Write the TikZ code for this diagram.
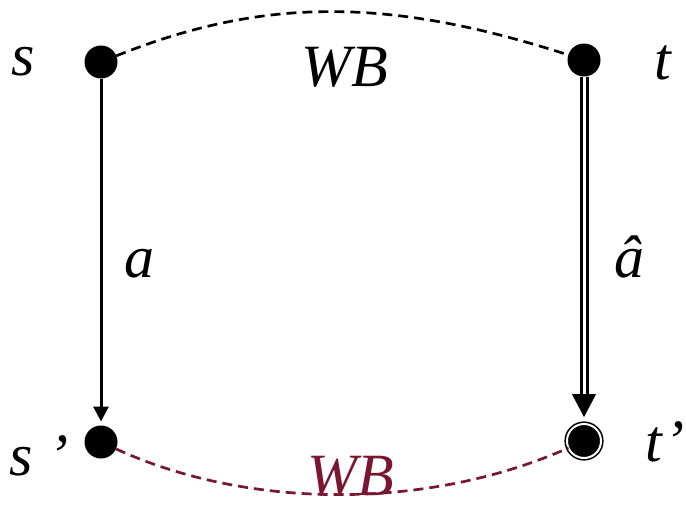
\documentclass[tikz,border=0pt]{standalone}
\usepackage{fontspec}
\setmainfont{Liberation Serif}
\usetikzlibrary{arrows.meta}
\definecolor{wbred}{RGB}{122,22,50}
\begin{document}
\begin{tikzpicture}[x=1pt,y=-1pt,
	state/.style={circle,fill=black,inner sep=0pt,outer sep=0pt,minimum size=33pt},
	final/.style={circle,fill=black,draw=black,double=white,double distance=2pt,line width=1.6pt,inner sep=0pt,outer sep=0pt,minimum size=34pt},
	lbl/.style={inner sep=0pt,anchor=base,font=\fontsize{60}{60}\selectfont\itshape},
	wb/.style={dash pattern=on 10pt off 6pt,line width=2.7pt}]
	\useasboundingbox (0,0) rectangle (686,522);
	\node[state] (s) at (101,62) {};
	\node[state] (t) at (584,60) {};
	\node[state] (sp) at (101,442) {};
	\node[final] (tp) at (584,441) {};
	\coordinate (tbase) at (584,394);
	\node[lbl] (ls) at (23,75) {s};
	\node[lbl] (lt) at (663,79) {t};
	\node[lbl] (lsp) at (39,475) {s ’};
	\node[lbl,anchor=base west] (ltp) at (645,461) {t\hspace{3pt}’};
	\node[lbl] (wbtop) at (345,86) {WB};
	\node[lbl,text=wbred] (wbbot) at (351,495) {WB};
	\node[lbl] (la) at (139,277) {a};
	\node[lbl] (lah) at (629,277) {â};
	\draw[wb] (s) .. controls (263,-3) and (389,-3) .. (t);
	\draw[wb,wbred] (sp) .. controls (249,510) and (429,510) .. (tp);
	\draw[line width=3pt,-{Triangle[length=15pt,width=15pt]},shorten >=4pt] (s) -- (sp);
	\draw[line width=3pt,double=white,double distance=3pt] (t) -- (tbase);
	\draw[line width=1pt,-{Triangle[length=23pt,width=24pt]},shorten >=7pt] (tbase) -- (tp);
\end{tikzpicture}
\end{document}
